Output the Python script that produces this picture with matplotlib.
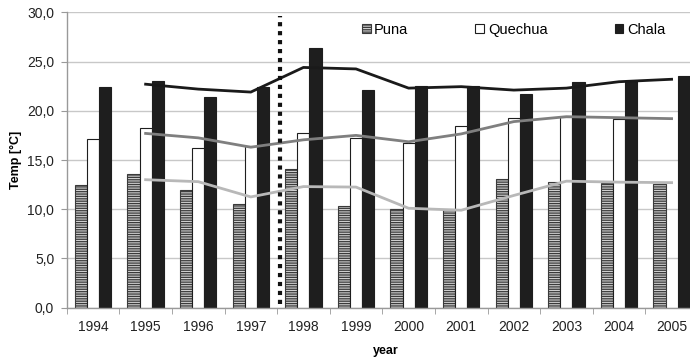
import numpy as np
import matplotlib
matplotlib.use("Agg")
import matplotlib.pyplot as plt
from matplotlib.ticker import FixedLocator, FuncFormatter

plt.rcParams['font.family'] = ['Liberation Sans', 'DejaVu Sans']
plt.rcParams['hatch.linewidth'] = 0.9

# mean temperature per year and altitude zone
years = ['1994', '1995', '1996', '1997', '1998', '1999',
         '2000', '2001', '2002', '2003', '2004', '2005']
puna = [12.5, 13.6, 12.0, 10.5, 14.1, 10.3, 10.0, 9.9, 13.1, 12.8, 12.7, 12.6]
quechua = [17.1, 18.3, 16.2, 16.4, 17.7, 17.2, 16.7, 18.5, 19.3, 19.4, 19.2, np.nan]
chala = [22.4, 23.0, 21.4, 22.4, 26.4, 22.1, 22.5, 22.5, 21.7, 22.9, 23.0, 23.5]

# 2-year moving averages (1995-2005)
trend_years = years[1:]
puna_trend = [13.0, 12.8, 11.25, 12.3, 12.25, 10.1, 9.9, 11.4, 12.85, 12.75, 12.7]
quechua_trend = [17.7, 17.25, 16.3, 17.05, 17.5, 16.85, 17.65, 18.9, 19.4, 19.3, 19.2]
chala_trend = [22.7, 22.2, 21.9, 24.4, 24.25, 22.3, 22.45, 22.1, 22.3, 22.95, 23.2]

# El Nino 1997/98 marker
marker_pos = 3.55

fig = plt.figure(figsize=(6.9, 3.62), dpi=100)
ax = fig.add_axes([0.0967, 0.150, 0.9033, 0.816])

x = np.arange(len(years))
w = 0.23

ax.bar(x - w, puna, w, color='#cfcfcf', edgecolor='#3a3a3a', linewidth=0.8,
       hatch='-------', label='Puna', zorder=2)
ax.bar(x, quechua, w, color='white', edgecolor='#1e1e1e', linewidth=0.8,
       label='Quechua', zorder=2)
ax.bar(x + w, chala, w, color='#1e1e1e', edgecolor='#1e1e1e', linewidth=0.8,
       label='Chala', zorder=2)

tx = np.arange(1, len(years))
ax.plot(tx, puna_trend, color='#b8b8b8', lw=2.0, zorder=3)
ax.plot(tx, quechua_trend, color='#7f7f7f', lw=2.0, zorder=3)
ax.plot(tx, chala_trend, color='#1a1a1a', lw=2.0, zorder=3)

ax.vlines(marker_pos, 0.4, 29.6, colors='#111111', lw=3.0,
          linestyles=(0, (1, 1.15)), zorder=4)

ax.set_ylim(0, 30)
ax.set_xlim(-0.5, 11.35)
ax.set_yticks(np.arange(0, 31, 5))
ax.yaxis.set_major_formatter(FuncFormatter(lambda v, p: f"{v:.1f}".replace('.', ',')))
ax.yaxis.grid(True, color='#c8c8c8', lw=1.0, zorder=0)
ax.set_axisbelow(True)

ax.set_xticks(x)
ax.set_xticklabels(years)
ax.xaxis.set_minor_locator(FixedLocator(np.arange(-0.5, 12, 1)))
ax.tick_params(axis='x', which='major', length=0, pad=9, labelsize=10, labelcolor='#222222')
ax.tick_params(axis='x', which='minor', length=4, color='#999999', direction='out')
ax.tick_params(axis='y', length=4, color='#999999', pad=5, labelsize=10, labelcolor='#222222')

for s in ['top', 'right']:
    ax.spines[s].set_visible(False)
for s in ['left', 'bottom']:
    ax.spines[s].set_color('#999999')
    ax.spines[s].set_linewidth(1.0)

ax.set_ylabel('Temp [°C]', fontsize=9, fontweight='bold', labelpad=4)
ax.set_xlabel('year', fontsize=9, fontweight='bold')
ax.xaxis.set_label_coords((386 - 66.7) / (0.9033 * 690), -0.125)

ax.legend(loc='upper left', bbox_to_anchor=(0.464, 0.985), ncol=3, frameon=False,
          fontsize=10.5, handlelength=0.6, handleheight=0.6, handletextpad=0.25,
          columnspacing=4.6, borderaxespad=0)

fig.savefig('out.png', dpi=100)
